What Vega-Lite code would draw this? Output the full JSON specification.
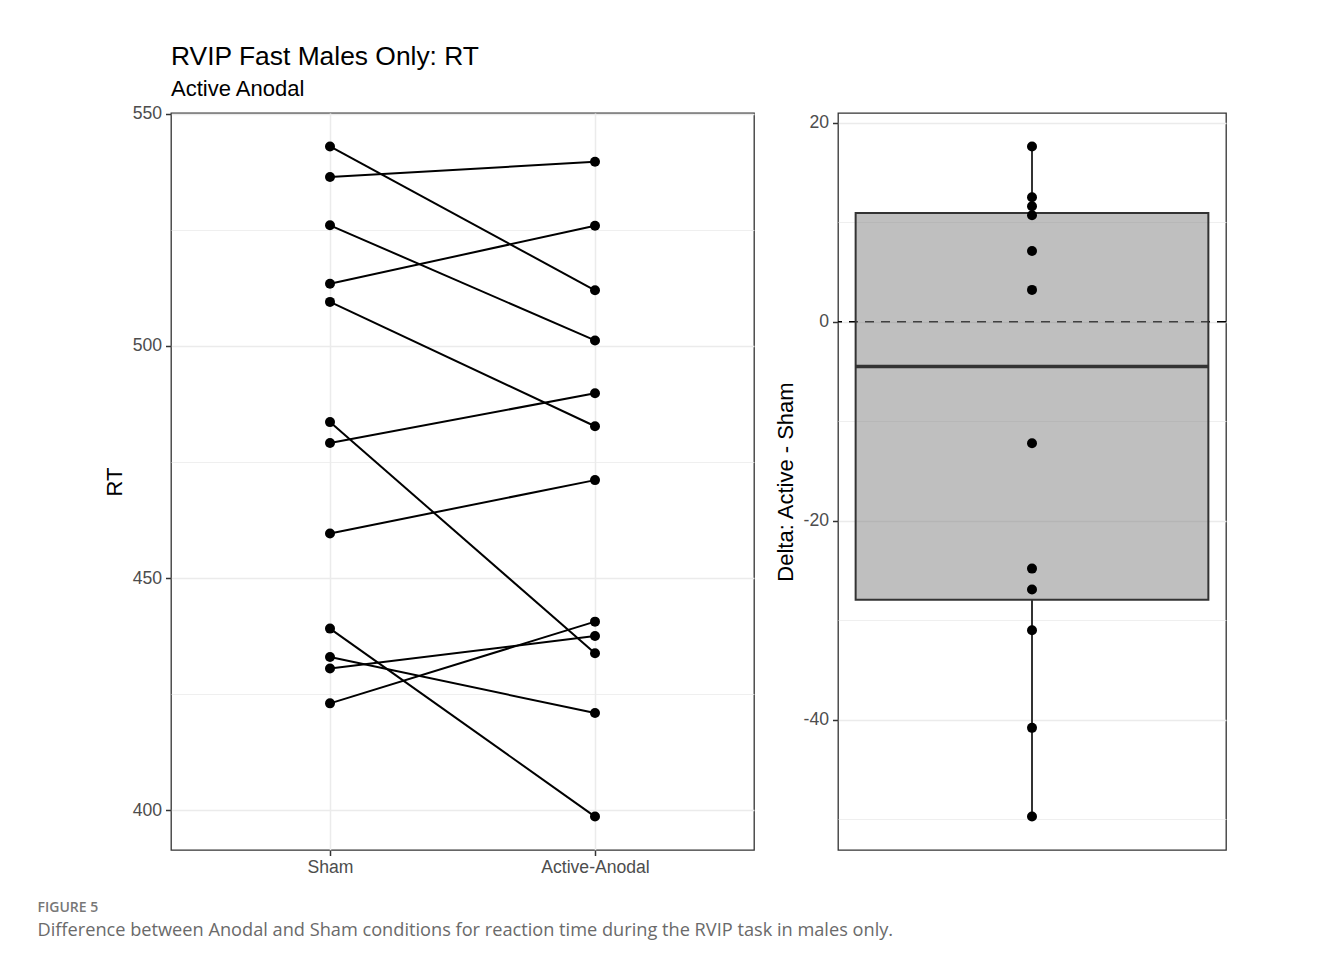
{
  "$schema": "https://vega.github.io/schema/vega-lite/v6.json",
  "padding": {"left": 37, "top": 42, "right": 5, "bottom": 5},
  "background": "white",
  "datasets": {
    "rt": [
      {"subject": 1, "condition": "Sham", "rt": 543.0},
      {"subject": 1, "condition": "Active-Anodal", "rt": 512.0},
      {"subject": 2, "condition": "Sham", "rt": 536.4},
      {"subject": 2, "condition": "Active-Anodal", "rt": 539.7},
      {"subject": 3, "condition": "Sham", "rt": 526.0},
      {"subject": 3, "condition": "Active-Anodal", "rt": 501.2},
      {"subject": 4, "condition": "Sham", "rt": 513.4},
      {"subject": 4, "condition": "Active-Anodal", "rt": 525.9},
      {"subject": 5, "condition": "Sham", "rt": 509.5},
      {"subject": 5, "condition": "Active-Anodal", "rt": 482.7},
      {"subject": 6, "condition": "Sham", "rt": 483.6},
      {"subject": 6, "condition": "Active-Anodal", "rt": 433.8},
      {"subject": 7, "condition": "Sham", "rt": 479.1},
      {"subject": 7, "condition": "Active-Anodal", "rt": 489.8},
      {"subject": 8, "condition": "Sham", "rt": 459.6},
      {"subject": 8, "condition": "Active-Anodal", "rt": 471.1},
      {"subject": 9, "condition": "Sham", "rt": 439.1},
      {"subject": 9, "condition": "Active-Anodal", "rt": 398.6},
      {"subject": 10, "condition": "Sham", "rt": 433.0},
      {"subject": 10, "condition": "Active-Anodal", "rt": 420.9},
      {"subject": 11, "condition": "Sham", "rt": 430.5},
      {"subject": 11, "condition": "Active-Anodal", "rt": 437.5},
      {"subject": 12, "condition": "Sham", "rt": 423.0},
      {"subject": 12, "condition": "Active-Anodal", "rt": 440.6}
    ],
    "delta": [
      {"subject": 1, "delta": -31.0},
      {"subject": 2, "delta": 3.2},
      {"subject": 3, "delta": -24.8},
      {"subject": 4, "delta": 12.5},
      {"subject": 5, "delta": -26.9},
      {"subject": 6, "delta": -49.7},
      {"subject": 7, "delta": 10.7},
      {"subject": 8, "delta": 11.6},
      {"subject": 9, "delta": -40.8},
      {"subject": 10, "delta": -12.2},
      {"subject": 11, "delta": 7.1},
      {"subject": 12, "delta": 17.6}
    ],
    "reference": [{"ref": 0}]
  },
  "config": {
    "font": "Liberation Sans",
    "view": {"stroke": "#333333", "strokeWidth": 1.3},
    "axis": {
      "domain": false,
      "gridColor": "#EBEBEB",
      "tickColor": "#333333",
      "tickWidth": 1.5,
      "tickSize": 5.5,
      "labelColor": "#4D4D4D",
      "labelFontSize": 17.6,
      "labelFont": "Liberation Sans",
      "titleFont": "Liberation Sans",
      "titleFontSize": 22,
      "titleFontWeight": "normal",
      "titleColor": "#000000",
      "labelPadding": 4
    }
  },
  "vconcat": [
    {
      "hconcat": [
        {
          "width": 583,
          "height": 737,
          "title": {
            "text": "RVIP Fast Males Only: RT",
            "subtitle": "Active Anodal",
            "anchor": "start",
            "frame": "group",
            "font": "Liberation Sans",
            "fontSize": 26.4,
            "fontWeight": "normal",
            "color": "#000000",
            "subtitleFont": "Liberation Sans",
            "subtitleFontSize": 22,
            "subtitleColor": "#000000",
            "offset": 5,
            "subtitlePadding": 9
          },
          "data": {"name": "rt"},
          "encoding": {
            "x": {
              "field": "condition",
              "type": "nominal",
              "sort": ["Sham", "Active-Anodal"],
              "scale": {"type": "point", "padding": 0.6},
              "axis": {"title": null, "labelAngle": 0, "grid": true, "gridWidth": 1.5, "labelPadding": 3}
            },
            "y": {
              "field": "rt",
              "type": "quantitative",
              "scale": {"domain": [391.4, 550.2], "nice": false, "zero": false},
              "axis": {
                "title": "RT",
                "titlePadding": 6,
                "values": [400, 425, 450, 475, 500, 525, 550],
                "labelExpr": "datum.value % 50 == 0 ? datum.label : ''",
                "tickOpacity": {"condition": {"test": "datum.value % 50 == 0", "value": 1}, "value": 0},
                "gridWidth": {"condition": {"test": "datum.value % 50 == 0", "value": 1.5}, "value": 0.8}
              }
            }
          },
          "layer": [
            {"mark": {"type": "line", "color": "#000000", "strokeWidth": 2}, "encoding": {"detail": {"field": "subject"}}},
            {"mark": {"type": "circle", "color": "#000000", "opacity": 1, "size": 100}}
          ]
        },
        {
          "width": 388,
          "height": 737,
          "layer": [
            {
              "data": {"name": "reference"},
              "mark": {"type": "rule", "color": "#000000", "strokeWidth": 1.5, "strokeDash": [9, 7]},
              "encoding": {
                "y": {"field": "ref", "type": "quantitative"}
              }
            },
            {
              "data": {"name": "delta"},
              "transform": [{"aggregate": [
                {"op": "min", "field": "delta", "as": "lo"},
                {"op": "q1", "field": "delta", "as": "q1"},
                {"op": "median", "field": "delta", "as": "med"},
                {"op": "q3", "field": "delta", "as": "q3"},
                {"op": "max", "field": "delta", "as": "hi"}
              ]}],
              "layer": [
                {
                  "mark": {"type": "rule", "color": "#333333", "strokeWidth": 2},
                  "encoding": {
                    "x": {"datum": 0, "type": "quantitative"},
                    "y": {"field": "lo", "type": "quantitative"},
                    "y2": {"field": "q1"}
                  }
                },
                {
                  "mark": {"type": "rule", "color": "#333333", "strokeWidth": 2},
                  "encoding": {
                    "x": {"datum": 0, "type": "quantitative"},
                    "y": {"field": "q3", "type": "quantitative"},
                    "y2": {"field": "hi"}
                  }
                },
                {
                  "mark": {"type": "rect", "fill": "#808080", "fillOpacity": 0.5, "stroke": "#333333", "strokeWidth": 2},
                  "encoding": {
                    "x": {"datum": -0.375, "type": "quantitative"},
                    "x2": {"datum": 0.375},
                    "y": {"field": "q1", "type": "quantitative"},
                    "y2": {"field": "q3"}
                  }
                },
                {
                  "mark": {"type": "rule", "color": "#333333", "strokeWidth": 3.5},
                  "encoding": {
                    "x": {"datum": -0.375, "type": "quantitative"},
                    "x2": {"datum": 0.375},
                    "y": {"field": "med", "type": "quantitative"}
                  }
                }
              ]
            },
            {
              "data": {"name": "delta"},
              "mark": {"type": "circle", "color": "#000000", "opacity": 1, "size": 100},
              "encoding": {
                "x": {
                  "datum": 0,
                  "type": "quantitative",
                  "scale": {"domain": [-0.4125, 0.4125], "nice": false, "zero": false},
                  "axis": {
                    "title": null,
                    "labels": false,
                    "ticks": false,
                    "values": [-0.4, -0.3, -0.2, -0.1, 0, 0.1, 0.2, 0.3, 0.4],
                    "gridWidth": {"condition": {"test": "abs(round(datum.value * 10)) % 2 == 0", "value": 1.5}, "value": 0.8}
                  }
                },
                "y": {
                  "field": "delta",
                  "type": "quantitative",
                  "scale": {"domain": [-53.07, 20.97], "nice": false, "zero": false},
                  "axis": {
                    "title": "Delta: Active - Sham",
                    "titlePadding": 6,
                    "values": [-50, -40, -30, -20, -10, 0, 10, 20],
                    "labelExpr": "datum.value % 20 == 0 ? replace(datum.label, '\u2212', '-') : ''",
                    "tickOpacity": {"condition": {"test": "datum.value % 20 == 0", "value": 1}, "value": 0},
                    "gridWidth": {"condition": {"test": "datum.value % 20 == 0", "value": 1.5}, "value": 0.8}
                  }
                }
              }
            }
          ]
        }
      ],
      "spacing": 84,
      "bounds": "flush"
    }
  ],
  "title": {
    "text": "FIGURE 5",
    "subtitle": "Difference between Anodal and Sham conditions for reaction time during the RVIP task in males only.",
    "orient": "bottom",
    "anchor": "start",
    "frame": "bounds",
    "font": "Open Sans",
    "fontSize": 14,
    "fontWeight": 600,
    "color": "#777777",
    "subtitleFont": "Open Sans",
    "subtitleFontSize": 18.2,
    "subtitleColor": "#6a6a6a",
    "subtitlePadding": 7,
    "offset": 24,
    "dx": -65
  }
}
